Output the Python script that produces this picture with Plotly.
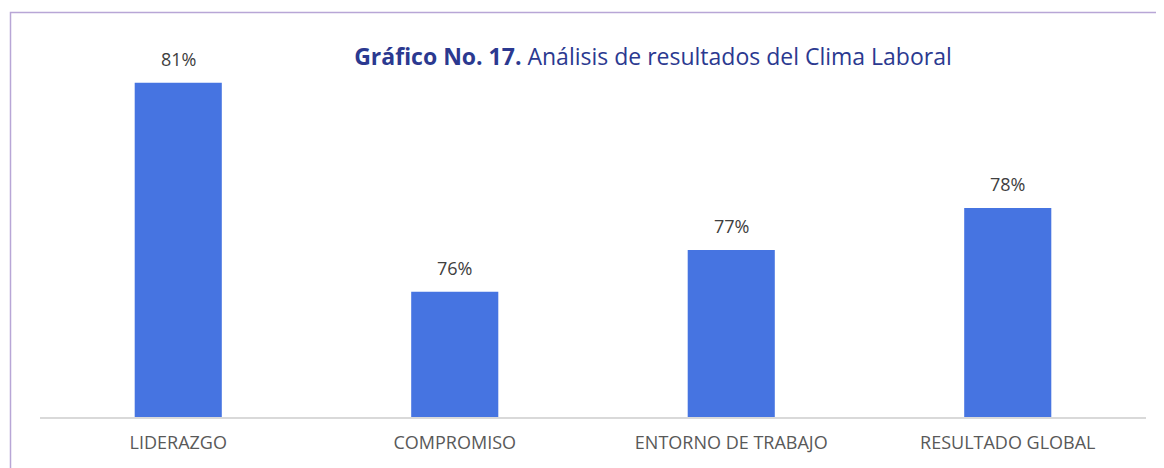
import plotly.graph_objects as go

categories = ["LIDERAZGO", "COMPROMISO", "ENTORNO DE TRABAJO", "RESULTADO GLOBAL"]
values = [81, 76, 77, 78]
labels = ["81%", "76%", "77%", "78%"]

# page is rendered with an 8px body offset
OFF = 8
W, H = 1164 - OFF, 468 - OFF
L, R, T, B = 40 - OFF, 18, 41 - OFF, 51
FONT = "Open Sans, Lato, sans-serif"

fig = go.Figure(go.Bar(x=categories, y=values, marker_color="#4674E1",
                       marker_line_width=0, width=0.315, hoverinfo="skip"))

for c, v, t in zip(categories, values, labels):
    fig.add_annotation(x=c, y=v, text=t, showarrow=False, yanchor="bottom",
                       yshift=10, font=dict(family=FONT, size=18, color="#404040"))

pw = W - L - R
ph = H - T - B
fig.add_shape(type="rect", xref="paper", yref="paper",
              x0=(10.5 - OFF - L) / pw, x1=1.2, y0=-0.5, y1=(H - B - (12.5 - OFF)) / ph,
              line=dict(color="#B8A6D6", width=1.5), fillcolor="rgba(0,0,0,0)", layer="below")

fig.update_layout(
    width=W, height=H,
    margin=dict(l=L, r=R, t=T, b=B),
    paper_bgcolor="white", plot_bgcolor="white",
    showlegend=False,
    title=dict(text="<b>Gráfico No. 17.</b> Análisis de resultados del Clima Laboral",
               x=(653 - OFF) / W, xanchor="center", y=1 - (57 - OFF) / H, yanchor="middle",
               font=dict(family=FONT, size=23, color="#2B3990")),
    xaxis=dict(showline=True, linecolor="#D9D9D9", linewidth=2, ticks="", showgrid=False,
               ticklabelstandoff=8,
               tickfont=dict(family=FONT, size=18, color="#595959")),
    yaxis=dict(range=[73, 82], visible=False, showgrid=False, zeroline=False),
)

fig.write_html("out.html")
